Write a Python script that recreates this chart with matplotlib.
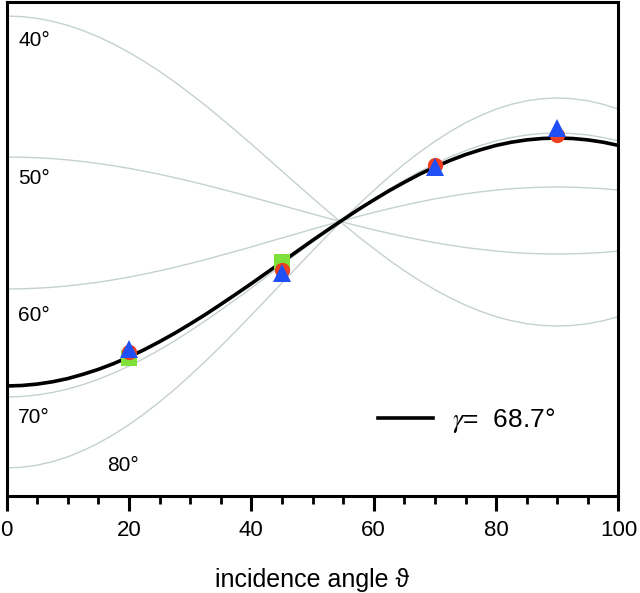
import matplotlib
matplotlib.use("Agg")
import matplotlib.pyplot as plt
import matplotlib.ticker as mticker

plt.rcParams["font.family"] = ["Liberation Sans", "DejaVu Sans"]
plt.rcParams["mathtext.fontset"] = "stix"

# incidence angle grid (deg), 2.5 deg steps
theta = [0, 2.5, 5, 7.5, 10, 12.5, 15, 17.5, 20, 22.5, 25, 27.5, 30, 32.5,
         35, 37.5, 40, 42.5, 45, 47.5, 50, 52.5, 55, 57.5, 60, 62.5, 65,
         67.5, 70, 72.5, 75, 77.5, 80, 82.5, 85, 87.5, 90, 92.5, 95, 97.5,
         100]

# simulated curves for several gamma values (arb. units)
gamma_labels = ["40°", "50°", "60°", "70°", "80°"]
curve_40 = [478.0, 477.4, 475.7, 472.7, 468.7, 463.4, 457.2, 449.9, 441.7,
            432.6, 422.7, 412.0, 400.5, 388.6, 376.0, 363.1, 350.0, 336.5,
            323.0, 309.5, 296.0, 282.9, 270.0, 257.4, 245.5, 234.0, 223.3,
            213.4, 204.3, 196.1, 188.8, 182.6, 177.3, 173.3, 170.3, 168.6,
            168.0, 168.6, 170.3, 173.3, 177.3]
curve_50 = [337.0, 336.8, 336.3, 335.4, 334.1, 332.4, 330.5, 328.2, 325.7,
            322.8, 319.7, 316.3, 312.8, 309.0, 305.1, 301.1, 296.9, 292.7,
            288.5, 284.3, 280.1, 275.9, 271.9, 268.0, 264.2, 260.7, 257.3,
            254.2, 251.3, 248.8, 246.5, 244.6, 242.9, 241.6, 240.7, 240.2,
            240.0, 240.2, 240.7, 241.6, 242.9]
curve_60 = [205.0, 205.2, 205.8, 206.7, 208.1, 209.8, 211.8, 214.2, 216.9,
            219.9, 223.2, 226.7, 230.5, 234.4, 238.6, 242.8, 247.1, 251.6,
            256.0, 260.4, 264.9, 269.2, 273.4, 277.6, 281.5, 285.3, 288.8,
            292.1, 295.1, 297.8, 300.2, 302.2, 303.9, 305.3, 306.2, 306.8,
            307.0, 306.8, 306.2, 305.3, 303.9]
curve_70 = [97.0, 97.5, 99.0, 101.5, 104.9, 109.4, 114.7, 120.9, 127.9,
            135.7, 144.1, 153.2, 163.0, 173.2, 183.9, 194.8, 206.0, 217.5,
            229.0, 240.5, 252.0, 263.2, 274.1, 284.8, 295.0, 304.8, 313.9,
            322.3, 330.1, 337.1, 343.3, 348.6, 353.1, 356.5, 359.0, 360.5,
            361.0, 360.5, 359.0, 356.5, 353.1]
curve_80 = [26.0, 26.7, 28.8, 32.3, 37.1, 43.4, 50.8, 59.5, 69.3,
            80.2, 92.0, 104.8, 118.5, 132.7, 147.7, 163.1, 178.8, 194.9,
            211.0, 227.1, 243.2, 258.9, 274.3, 289.3, 303.5, 317.2, 330.0,
            341.8, 352.7, 362.5, 371.2, 378.6, 384.9, 389.7, 393.2, 395.3,
            396.0, 395.3, 393.2, 389.7, 384.9]
gray_curves = [curve_40, curve_50, curve_60, curve_70, curve_80]

# best fit
fit_label = r"$\gamma$=  68.7°"
curve_fit = [108.0, 108.5, 109.9, 112.2, 115.4, 119.7, 124.6, 130.4, 137.0,
             144.3, 152.3, 160.8, 170.0, 179.5, 189.6, 199.9, 210.4, 221.2,
             232.0, 242.8, 253.6, 264.1, 274.4, 284.5, 294.0, 303.2, 311.7,
             319.8, 327.0, 333.6, 339.4, 344.3, 348.6, 351.8, 354.1, 355.5,
             356.0, 355.5, 354.1, 351.8, 348.6]

# measured points
square_theta = [20, 45]
meas_square = [136, 232]
meas_theta = [20, 45, 70, 90]
meas_circle = [142, 224, 329, 359]
meas_triangle = [145, 221, 327, 366]

# label anchors (x, y) in data units
label_x = [1.9, 1.9, 1.9, 1.9, 16.4]
label_y = [454, 316, 178, 76, 28]

fig = plt.figure(figsize=(6.4, 5.93), dpi=100)
ax = fig.add_axes([0.0102, 0.1636, 0.9562, 0.833])

for c in gray_curves:
    ax.plot(theta, c, color="#c5d0d0", linewidth=1.0, zorder=1)

ax.plot(theta, curve_fit, color="black", linewidth=2.6, zorder=2,
        label=fit_label)

ax.plot(square_theta, meas_square, "s", color="#7fe03a", markersize=11,
        markeredgewidth=0, zorder=3)
ax.plot(meas_theta, meas_circle, "o", color="#ee4020", markersize=11,
        markeredgewidth=0, zorder=4)
ax.plot(meas_theta, meas_triangle, "^", color="#1f4ff5", markersize=13,
        markeredgewidth=0, zorder=5)

for lab, lx, ly in zip(gamma_labels, label_x, label_y):
    ax.text(lx, ly, lab, fontsize=15, ha="left", va="center")

ax.set_xlim(0, 100)
ax.set_ylim(-2, 492)
ax.set_yticks([])
ax.xaxis.set_major_locator(mticker.MultipleLocator(20))
ax.xaxis.set_minor_locator(mticker.MultipleLocator(5))
ax.tick_params(axis="x", which="major", direction="out", length=11,
               width=2.2, labelsize=16, pad=6)
ax.tick_params(axis="x", which="minor", direction="out", length=6,
               width=2.0)
for s in ax.spines.values():
    s.set_linewidth(2.2)

ax.set_xlabel("incidence angle ϑ", fontsize=18, labelpad=20)

ax.legend(loc="center left", bbox_to_anchor=(0.607, 0.152), frameon=False,
          fontsize=19, handlelength=2.1, handletextpad=0.7,
          borderpad=0, borderaxespad=0)

fig.savefig("out.png", dpi=100)
